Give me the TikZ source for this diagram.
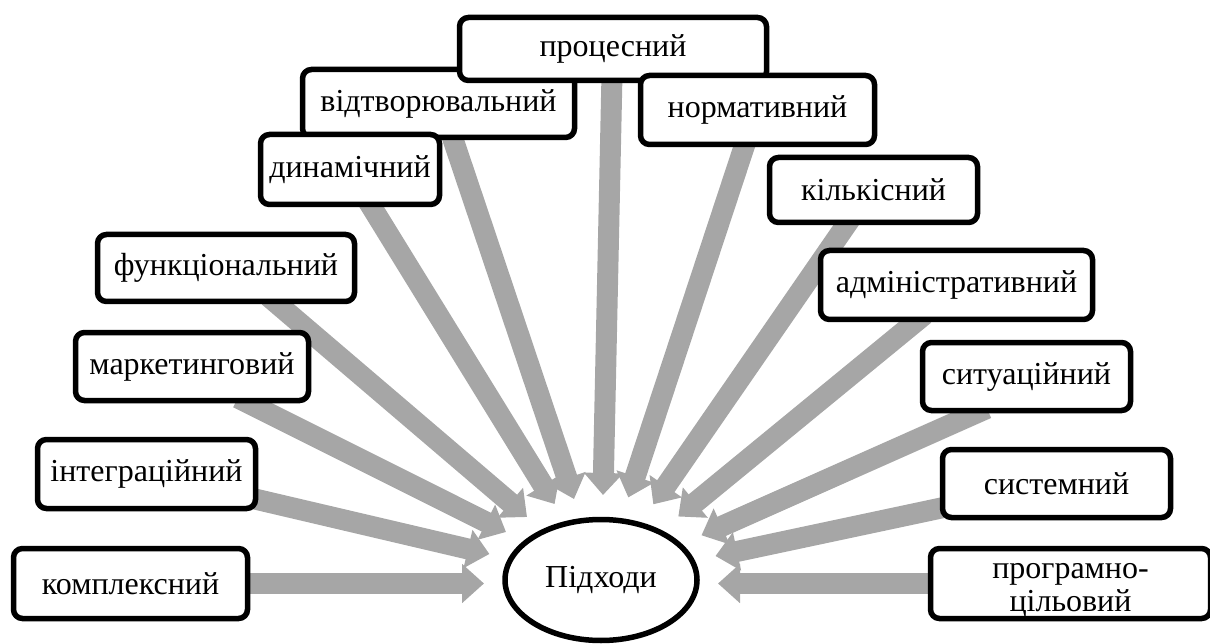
\documentclass[tikz,border=0pt]{standalone}
\usepackage{fontspec}
\setmainfont{Liberation Serif}
\usetikzlibrary{arrows.meta,shapes.geometric,calc}
\pgfdeclarelayer{bg}
\pgfsetlayers{bg,main}
\definecolor{arrgray}{RGB}{166,166,166}
\tikzset{
  box/.style={draw=black, line width=5.5pt, rounded corners=9pt, fill=white,
    inner sep=0pt, align=center, font=\fontsize{32}{33}\selectfont},
  hub/.style={ellipse, draw=black, line width=5.5pt, fill=white, inner sep=0pt,
    minimum width=192pt, minimum height=121pt, font=\fontsize{32}{33}\selectfont},
  arr/.style={draw=arrgray, line width=21pt, shorten <=-12pt,
    -{Triangle[width=38pt,length=22pt]}}
}
\begin{document}
\begin{tikzpicture}[x=1pt,y=-1pt]
\useasboundingbox (0,0) rectangle (1210,644);
% boxes (drawing order gives overlaps)
\node[box, minimum width=272pt, minimum height=68pt] (vidtv) at (438.5,103.5) {відтворювальний};
\node[box, minimum width=179pt, minimum height=70pt] (dyn) at (350,169.5) {динамічний};
\node[box, minimum width=307pt, minimum height=63pt] (proc) at (613,49) {процесний};
\node[box, minimum width=234pt, minimum height=69pt] (norm) at (757.5,110) {нормативний};
\node[box, minimum width=234pt, minimum height=70pt] (kompl) at (130.5,583.5) {комплексний};
\node[box, minimum width=218pt, minimum height=69pt] (integr) at (146.5,474) {інтеграційний};
\node[box, minimum width=233pt, minimum height=68pt] (market) at (192,366.5) {маркетинговий};
\node[box, minimum width=257pt, minimum height=67pt] (funk) at (226,268) {функціональний};
\node[box, minimum width=208pt, minimum height=65pt] (kilk) at (873.5,190) {кількісний};
\node[box, minimum width=272pt, minimum height=69pt] (admin) at (956.5,285) {адміністративний};
\node[box, minimum width=208pt, minimum height=68pt] (sytu) at (1026.5,376.5) {ситуаційний};
\node[box, minimum width=228pt, minimum height=68pt] (syst) at (1056.5,483.5) {системний};
\node[box, minimum width=280pt, minimum height=70pt] (prog) at (1070.5,583.5)
  {\raisebox{-5pt}[\height][\depth]{\begin{tabular}{@{}c@{}}програмно-\\цільовий\end{tabular}}};
\node[hub] (hub) at (601,580) {Підходи};
% arrow tips
\coordinate (t1) at (484,583.5);
\coordinate (t2) at (489.4,554);
\coordinate (t3) at (506,532);
\coordinate (t4) at (527,517);
\coordinate (t5) at (554.6,504);
\coordinate (t6) at (574,499);
\coordinate (t7) at (603,495);
\coordinate (t8) at (628.3,497.4);
\coordinate (t9) at (653.3,504.3);
\coordinate (t10) at (678.3,516.5);
\coordinate (t11) at (701.5,535.3);
\coordinate (t12) at (715.5,556);
\coordinate (t13) at (718,583.5);
\begin{pgfonlayer}{bg}
\draw[arr] (kompl.east) -- (t1);
\draw[arr] (integr.-13) -- (t2);
\draw[arr] (market.-33) -- (t3);
\draw[arr] (funk.-35) -- (t4);
\draw[arr] (dyn.-60) -- (t5);
\draw[arr] (vidtv.-68) -- (t6);
\draw[arr] (proc.-92) -- (t7);
\draw[arr] (norm.-110) -- (t8);
\draw[arr] (kilk.-128) -- (t9);
\draw[arr] (admin.-138) -- (t10);
\draw[arr] (sytu.-144) -- (t11);
\draw[arr] (syst.-168) -- (t12);
\draw[arr] (prog.west) -- (t13);
\end{pgfonlayer}
\end{tikzpicture}
\end{document}
